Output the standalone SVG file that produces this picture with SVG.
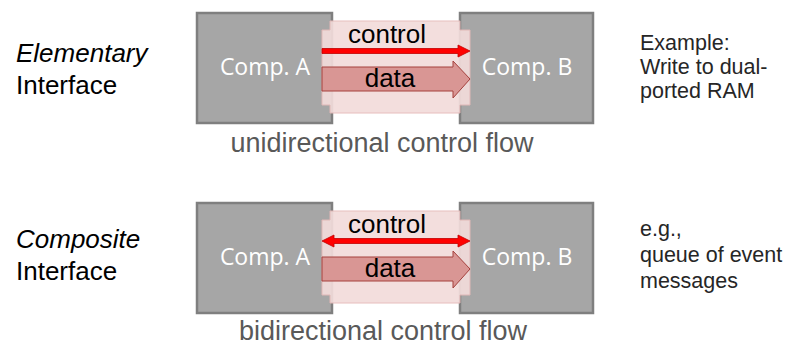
<svg xmlns="http://www.w3.org/2000/svg" width="792" height="345" viewBox="0 0 792 345">
<style>
.box{fill:#a6a6a6;stroke:#7f7f7f;stroke-width:2.5}
.band{fill:#f2dcdb;stroke:#e6b9b8;stroke-width:1;opacity:0.92}
.comp{font-family:"Open Sans",sans-serif;font-size:23px;fill:#ffffff;text-anchor:middle}
.lbl{font-family:"Liberation Sans",Arial,sans-serif;font-size:26px;fill:#000000}
.sig{font-family:"Liberation Sans",Arial,sans-serif;font-size:26px;fill:#000000;text-anchor:middle}
.sub{font-family:"Liberation Sans",Arial,sans-serif;font-size:27px;fill:#595959;text-anchor:middle}
.note{font-family:"Liberation Sans",Arial,sans-serif;font-size:21.5px;fill:#262626}
.ctl{fill:#ff0000;stroke:#c00000;stroke-width:0.8}
.dat{fill:#d99694;stroke:#a5403d;stroke-width:1}
</style>
<g id="label-elementary">
<text class="lbl" x="16" y="62" font-style="italic">Elementary</text>
<text class="lbl" x="16" y="94">Interface</text>
</g>
<g id="label-composite">
<text class="lbl" x="16" y="248" font-style="italic">Composite</text>
<text class="lbl" x="16" y="280">Interface</text>
</g>
<g id="compA-top"><rect class="box" x="197" y="13" width="135" height="110"/><text class="comp" x="265" y="75">Comp. A</text></g>
<g id="compB-top"><rect class="box" x="460" y="13" width="133" height="110"/><text class="comp" x="527" y="75">Comp. B</text></g>
<g id="compA-bot"><rect class="box" x="197" y="203" width="135" height="110"/><text class="comp" x="265" y="265">Comp. A</text></g>
<g id="compB-bot"><rect class="box" x="460" y="203" width="133" height="110"/><text class="comp" x="527" y="265">Comp. B</text></g>
<g id="iface-top">
<path class="band" d="M330,21 H460 V30 H470 V105 H460 V113 H330 V105 H322 V30 H330 Z"/>
<text class="sig" x="387" y="43">control</text>
</g>
<g id="iface-bot">
<path class="band" d="M330,211 H460 V220 H470 V295 H460 V303 H330 V295 H322 V220 H330 Z"/>
<text class="sig" x="387" y="233">control</text>
</g>
<g id="connectors">
<path class="ctl" d="M322,48.5 H458 V45 L470,51 L458,57 V53.5 H322 Z"/>
<path class="dat" d="M322,67 H453 V61 L470,79 L453,98 V91 H322 Z"/>
<path class="ctl" d="M334,238.5 H458 V235 L470,241 L458,247 V243.5 H334 V247 L322,241 L334,235 Z"/>
<path class="dat" d="M322,257 H453 V251 L470,269 L453,288 V281 H322 Z"/>
</g>
<text class="sig" x="390" y="87">data</text>
<text class="sig" x="390" y="277">data</text>
<g id="sub-top"><text class="sub" x="382" y="152">unidirectional control flow</text></g>
<g id="sub-bot"><text class="sub" x="383" y="340">bidirectional control flow</text></g>
<g id="note-top">
<text class="note" x="640" y="50">Example:</text>
<text class="note" x="640" y="74">Write to dual-</text>
<text class="note" x="640" y="98">ported RAM</text>
</g>
<g id="note-bot">
<text class="note" x="640" y="236">e.g.,</text>
<text class="note" x="640" y="262">queue of event</text>
<text class="note" x="640" y="288">messages</text>
</g>
</svg>
